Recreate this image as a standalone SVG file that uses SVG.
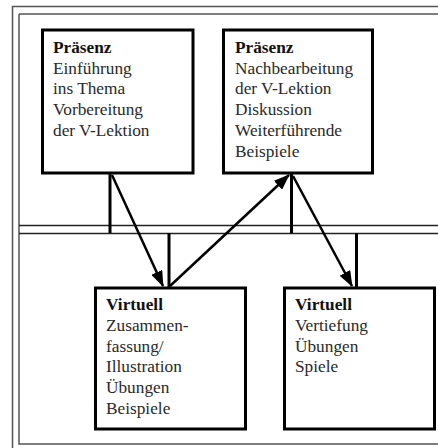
<svg xmlns="http://www.w3.org/2000/svg" width="438" height="448" viewBox="0 0 438 448">
  <defs>
    <style>
      .frame { fill: none; stroke: #555; stroke-width: 1.5; }
      .rule { fill: none; stroke: #222; stroke-width: 1.5; }
      .box { fill: #fff; stroke: #000; stroke-width: 3; }
      .stem { stroke: #000; stroke-width: 3; fill: none; }
      .flow { stroke: #000; stroke-width: 2.5; fill: none; marker-end: url(#head); }
      text { font-family: "Liberation Serif", "Times New Roman", serif; font-size: 17.3px; fill: #2a2a2a; }
      .title { font-weight: bold; fill: #111; }
    </style>
    <marker id="head" viewBox="0 0 16 12" refX="15" refY="6" markerWidth="16" markerHeight="12" markerUnits="userSpaceOnUse" orient="auto">
      <path d="M0,0 L16,6 L0,12 Z" fill="#000"/>
    </marker>
  </defs>

  <rect width="438" height="448" fill="#fff"/>

  <!-- page frame -->
  <path class="frame" d="M12.5,448 V6.5 H438"/>
  <path class="frame" d="M19,14 H438 M19,14 V444 H438"/>

  <!-- double separator line between Präsenz and Virtuell phases -->
  <line class="rule" x1="19" y1="225.5" x2="438" y2="225.5"/>
  <line class="rule" x1="19" y1="233.5" x2="438" y2="233.5" stroke="#666"/>

  <g id="connectors">
    <line class="stem" x1="110" y1="173" x2="110" y2="233"/>
    <line class="stem" x1="169" y1="233" x2="169" y2="288"/>
    <line class="stem" x1="291.5" y1="173" x2="291.5" y2="233"/>
    <line class="stem" x1="356.5" y1="233" x2="356.5" y2="288"/>
    <line class="flow" x1="112" y1="175" x2="163" y2="286"/>
    <line class="flow" x1="170" y1="286" x2="289" y2="175"/>
    <line class="flow" x1="293" y1="176" x2="352" y2="286"/>
  </g>

  <g id="praesenz-1">
    <rect class="box" x="42.5" y="30" width="150.5" height="143"/>
    <text x="53" y="52.7"><tspan class="title">Präsenz</tspan></text>
    <text x="53" y="73.5">Einführung</text>
    <text x="53" y="94.3">ins Thema</text>
    <text x="53" y="115.1">Vorbereitung</text>
    <text x="53" y="135.9">der V-Lektion</text>
  </g>

  <g id="praesenz-2">
    <rect class="box" x="223.5" y="30" width="149" height="143"/>
    <text x="235" y="52.7"><tspan class="title">Präsenz</tspan></text>
    <text x="235" y="73.5">Nachbearbeitung</text>
    <text x="235" y="94.3">der V-Lektion</text>
    <text x="235" y="115.1">Diskussion</text>
    <text x="235" y="135.9">Weiterführende</text>
    <text x="235" y="156.7">Beispiele</text>
  </g>

  <g id="virtuell-1">
    <rect class="box" x="95.5" y="288" width="150" height="141"/>
    <text x="106" y="310"><tspan class="title">Virtuell</tspan></text>
    <text x="106" y="330.8">Zusammen-</text>
    <text x="106" y="351.6">fassung/</text>
    <text x="106" y="372.4">Illustration</text>
    <text x="106" y="393.2">Übungen</text>
    <text x="106" y="414">Beispiele</text>
  </g>

  <g id="virtuell-2">
    <rect class="box" x="284.5" y="288" width="150" height="141"/>
    <text x="295" y="310"><tspan class="title">Virtuell</tspan></text>
    <text x="295" y="330.8">Vertiefung</text>
    <text x="295" y="351.6">Übungen</text>
    <text x="295" y="372.4">Spiele</text>
  </g>
</svg>
